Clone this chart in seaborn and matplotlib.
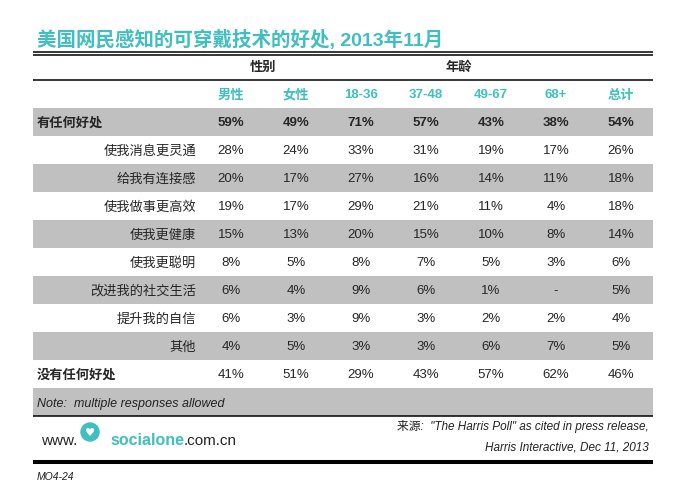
import matplotlib
matplotlib.use('Agg')
import matplotlib.pyplot as plt
from matplotlib.patches import Circle
import seaborn as sns

# ── Data ──────────────────────────────────────────────────────────────────────
title = '美国网民感知的可穿戴技术的好处, 2013年11月'
groups = ['性别', '年龄']
columns = ['男性', '女性', '18-36', '37-48', '49-67', '68+', '总计']
row_labels = ['有任何好处', '使我消息更灵通', '给我有连接感', '使我做事更高效',
              '使我更健康', '使我更聪明', '改进我的社交生活', '提升我的自信',
              '其他', '没有任何好处']
values = [
    [59, 49, 71, 57, 43, 38, 54],
    [28, 24, 33, 31, 19, 17, 26],
    [20, 17, 27, 16, 14, 11, 18],
    [19, 17, 29, 21, 11, 4, 18],
    [15, 13, 20, 15, 10, 8, 14],
    [8, 5, 8, 7, 5, 3, 6],
    [6, 4, 9, 6, 1, None, 5],
    [6, 3, 9, 3, 2, 2, 4],
    [4, 5, 3, 3, 6, 7, 5],
    [41, 51, 29, 43, 57, 62, 46],
]
note = 'Note:  multiple responses allowed'
source_lines = ['来源:  "The Harris Poll" as cited in press release,',
                'Harris Interactive, Dec 11, 2013']
page_code = 'MO4-24'

# ── Style ─────────────────────────────────────────────────────────────────────
sns.set_theme(style='white')
FONTS = ['Liberation Sans', 'Noto Sans CJK SC', 'DejaVu Sans']
plt.rcParams['font.family'] = FONTS
TEAL = '#3fbfbf'
GRAY = '#c0c0c0'
FS = 9.5
DROP = 4.5  # centre -> baseline, pixels

fig = plt.figure(figsize=(6.92, 4.83), dpi=100)
ax = fig.add_axes([0, 0, 1, 1])
ax.set_xlim(0, 692)
ax.set_ylim(483, 0)
ax.axis('off')


def put(x, y, s, **kw):
    kw.setdefault('fontsize', FS)
    return ax.text(x, y + DROP, s, va='baseline', **kw)


left, right = 33, 653
row_h = 28
top_row = 108
col_x = [231 + 65 * i for i in range(len(columns))]

# title
ax.text(37, 46, title, color=TEAL, fontsize=14, fontweight='bold', va='baseline', ha='left')
ax.hlines([52, 55], left, right, color='black', lw=1.1)

# group headers
put((col_x[0] + col_x[1]) / 2, 66, groups[0], fontweight='bold', ha='center')
put(sum(col_x[2:6]) / 4, 66, groups[1], fontweight='bold', ha='center')
ax.hlines(80, left, right, color='black', lw=1.1)

for x, c in zip(col_x, columns):
    put(x, 94, c, color=TEAL, fontweight='bold', ha='center')

# band backgrounds (every other row, including note row)
n_rows = len(row_labels) + 1
for i in range(0, n_rows, 2):
    y0 = top_row + i * row_h
    ax.axhspan(y0, y0 + row_h, xmin=left / 692, xmax=right / 692, color=GRAY, lw=0, zorder=0)

for i, (lab, vals) in enumerate(zip(row_labels, values)):
    y = top_row + row_h * i + row_h / 2
    main = i == 0 or i == len(row_labels) - 1
    if main:
        put(37, y, lab, fontweight='bold', ha='left')
    else:
        put(196, y, lab, ha='right')
    for x, v in zip(col_x, vals):
        s = '-' if v is None else f'{v}%'
        put(x, y, s, ha='center', fontweight='bold' if i == 0 else 'normal')

y_note = top_row + row_h * len(row_labels) + row_h / 2
put(37, y_note, note, fontsize=9, style='italic', ha='left', color='#222222')
ax.hlines(416, left, right, color='black', lw=1.1)

# footer logo
t1 = ax.text(41, 445, 'www.', fontsize=11, ha='left', va='baseline')
ax.add_patch(Circle((90, 432), 9, color=TEAL, zorder=3))
ax.text(90, 433, '♥', fontsize=8, color='white', ha='center', va='center', zorder=4,
        family='DejaVu Sans')
t2 = ax.text(110, 445, 'socialone', fontsize=11.5, fontweight='bold', color=TEAL,
             ha='left', va='baseline')
ax.annotate('.com.cn', xy=(1, 0), xycoords=t2, fontsize=11, ha='left', va='bottom')

ax.text(649, 430, source_lines[0], fontsize=8.5, style='italic', ha='right', va='baseline', color='#222222')
ax.text(649, 450, source_lines[1], fontsize=8.5, style='italic', ha='right', va='baseline', color='#222222')
ax.hlines(462, left, right, color='black', lw=2.9)

ax.text(37, 480, page_code, fontsize=7.5, style='italic', ha='left', va='baseline', color='#222222')

fig.savefig('out.png', dpi=100)
